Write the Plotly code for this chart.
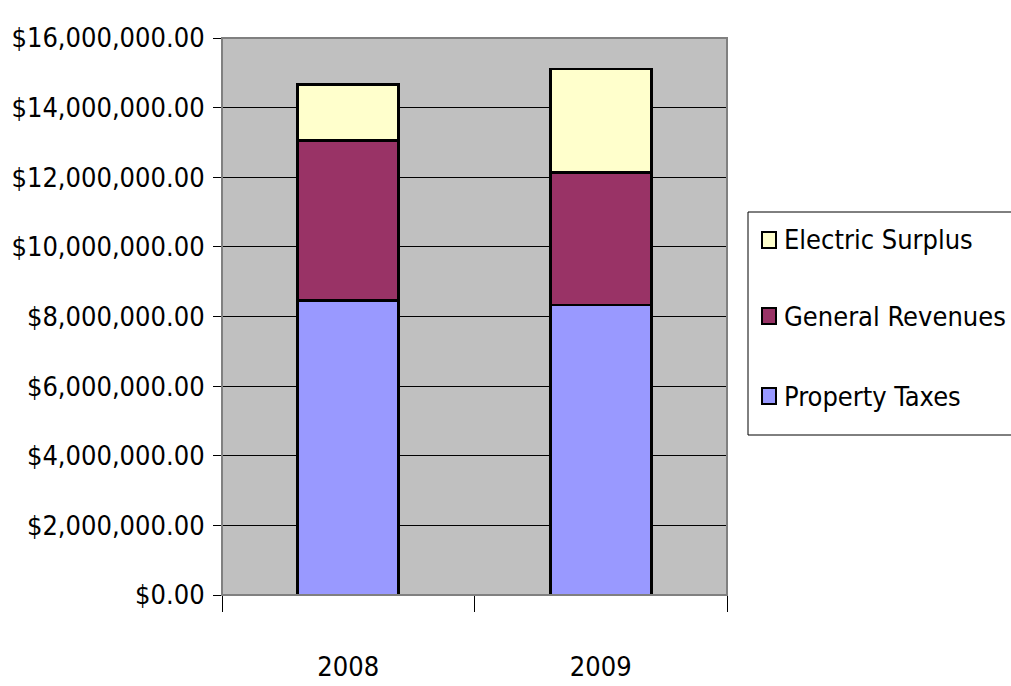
import plotly.graph_objects as go

years = ["2008", "2009"]
property_taxes = [8460000, 8330000]
general_revenues = [4590000, 3810000]
electric_surplus = [1610000, 2970000]

tick_vals = [0, 2e6, 4e6, 6e6, 8e6, 10e6, 12e6, 14e6, 16e6]
tick_text = ["$0.00", "$2,000,000.00", "$4,000,000.00", "$6,000,000.00", "$8,000,000.00",
             "$10,000,000.00", "$12,000,000.00", "$14,000,000.00", "$16,000,000.00"]

FONT = "DejaVu Sans Condensed, Liberation Sans Narrow, Arial Narrow, sans-serif"

W, H = 1011, 686
L, R, T, B = 222, 727, 38, 595

def px(x):
    return (x - L) / (R - L)

def py(y):
    return (B - y) / (B - T)

fig = go.Figure()
series = [("Property Taxes", property_taxes, "#9999FF"),
          ("General Revenues", general_revenues, "#993366"),
          ("Electric Surplus", electric_surplus, "#FFFFCC")]
for name, vals, col in series:
    fig.add_trace(go.Bar(x=years, y=vals, name=name,
                         marker=dict(color=col, line=dict(color="black", width=2.8)),
                         width=0.4, showlegend=False))

fig.update_layout(
    barmode="stack",
    width=W, height=H,
    margin=dict(l=L, r=W - R, t=T, b=H - B),
    paper_bgcolor="white",
    plot_bgcolor="#C0C0C0",
    font=dict(family=FONT, size=27, color="black"),
    showlegend=False,
    bargap=0.6,
)
fig.update_yaxes(range=[0, 16e6], tickvals=tick_vals, ticktext=tick_text,
                 showgrid=True, gridcolor="black", gridwidth=1,
                 ticks="outside", ticklen=8, tickcolor="black",
                 showline=True, linecolor="black", linewidth=1,
                 zeroline=False, automargin=False, ticklabelstandoff=3,
                 tickfont=dict(family=FONT, size=27))
fig.update_xaxes(ticks="outside", tickson="boundaries", ticklen=16, tickcolor="black",
                 showline=True, linecolor="black", linewidth=1,
                 showgrid=False, ticklabelstandoff=48, automargin=False,
                 tickfont=dict(family=FONT, size=27))
# plot border (top/right darker edge)
fig.add_shape(type="rect", xref="paper", yref="paper", x0=0, x1=1, y0=0, y1=1,
              line=dict(color="#808080", width=2), layer="above")

# manual legend box
fig.add_shape(type="rect", xref="paper", yref="paper",
              x0=px(748), x1=px(1015), y0=py(435), y1=py(212),
              line=dict(color="black", width=1), fillcolor="white", layer="above")
rows = [("Electric Surplus", "#FFFFCC", 240), ("General Revenues", "#993366", 316),
        ("Property Taxes", "#9999FF", 396)]
for name, col, yc in rows:
    fig.add_shape(type="rect", xref="paper", yref="paper",
                  x0=px(762), x1=px(776), y0=py(yc + 8), y1=py(yc - 8),
                  line=dict(color="black", width=2), fillcolor=col, layer="above")
    fig.add_annotation(x=px(782), y=py(yc), xref="paper", yref="paper",
                       text=name, showarrow=False, xanchor="left", yanchor="middle",
                       font=dict(family=FONT, size=27, color="black"))

fig.write_html("out.html")
